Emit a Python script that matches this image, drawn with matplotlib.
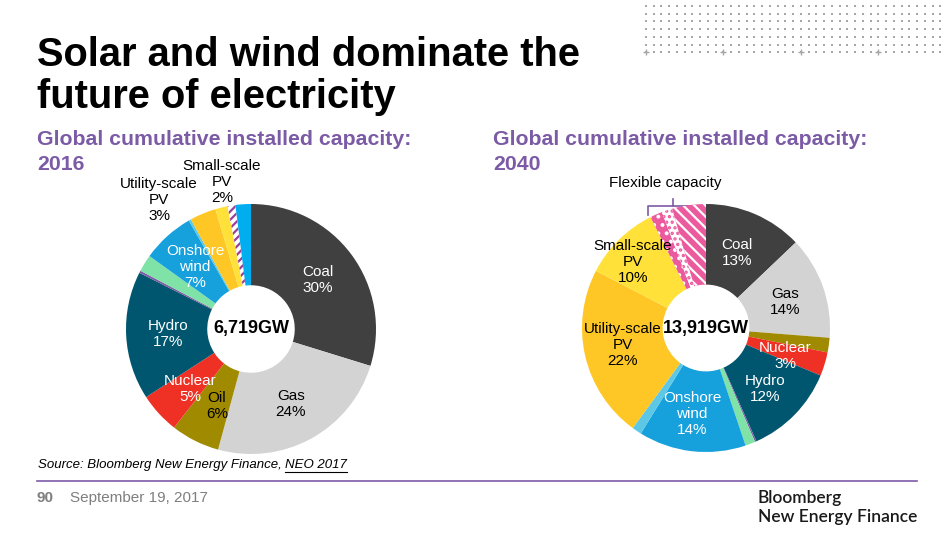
import numpy as np
import matplotlib
matplotlib.use("Agg")
import matplotlib.pyplot as plt

plt.rcParams['font.family'] = ['Liberation Sans', 'DejaVu Sans']
plt.rcParams['hatch.linewidth'] = 1.6

W, H = 953, 536

# 2016 capacity mix (% of 6,719GW), clockwise from 12 o'clock
names_2016 = ['Coal', 'Gas', 'Oil', 'Nuclear', 'Hydro', 'Biomass', 'Geothermal',
              'Onshore wind', 'Offshore wind', 'Utility-scale PV', 'Small-scale PV',
              'Flexible capacity', 'Other']
share_2016 = [29.8, 24.5, 6.3, 5.3, 16.6, 0.3, 2.2, 6.8, 0.3, 3.4, 1.6, 1.0, 2.0]
total_2016 = '6,719GW'

# 2040 capacity mix (% of 13,919GW)
names_2040 = ['Coal', 'Gas', 'Oil', 'Nuclear', 'Hydro', 'Biomass', 'Geothermal',
              'Onshore wind', 'Offshore wind', 'Utility-scale PV', 'Small-scale PV',
              'Flexible A', 'Flexible B', 'Flexible C']
share_2040 = [12.9, 13.4, 1.9, 3.1, 12.1, 0.2, 1.3, 14.0, 1.25, 22.6, 10.0, 1.6, 1.4, 4.4]
total_2040 = '13,919GW'

# printed labels: (name, text)
labels_2016 = {'Coal': 'Coal\n30%', 'Gas': 'Gas\n24%', 'Oil': 'Oil\n6%',
               'Nuclear': 'Nuclear\n5%', 'Hydro': 'Hydro\n17%',
               'Onshore wind': 'Onshore\nwind\n7%',
               'Utility-scale PV': 'Utility-scale\nPV\n3%',
               'Small-scale PV': 'Small-scale\nPV\n2%'}
labels_2040 = {'Coal': 'Coal\n13%', 'Gas': 'Gas\n14%', 'Nuclear': 'Nuclear\n3%',
               'Hydro': 'Hydro\n12%', 'Onshore wind': 'Onshore\nwind\n14%',
               'Utility-scale PV': 'Utility-scale\nPV\n22%',
               'Small-scale PV': 'Small-scale\nPV\n10%'}

colors = {'Coal': '#404040', 'Gas': '#d3d3d3', 'Oil': '#a08a00', 'Nuclear': '#ee3124',
          'Hydro': '#00566f', 'Biomass': '#7d5ba6', 'Geothermal': '#7fe3a8',
          'Onshore wind': '#16a0dc', 'Offshore wind': '#5cc8e6',
          'Utility-scale PV': '#ffc726', 'Small-scale PV': '#ffe13a',
          'Flexible capacity': 'white', 'Other': '#00aeef',
          'Flexible A': '#ec5a9e', 'Flexible B': 'white', 'Flexible C': '#ec5a9e'}
hatches = {'Flexible capacity': ('////', '#9b3f9c'),
           'Flexible A': ('..', 'white'),
           'Flexible B': ('...', '#ec5a9e'),
           'Flexible C': ('\\\\\\', 'white')}
white_text = ['Coal', 'Nuclear', 'Hydro', 'Onshore wind']
purple = '#7b5aa6'

fig = plt.figure(figsize=(W / 100, H / 100), dpi=100)
bg = fig.add_axes([0, 0, 1, 1])
bg.set_xlim(0, W)
bg.set_ylim(H, 0)
bg.axis('off')


def px(x, y):
    return x / W, 1 - y / H


def donut(cx, cy, r, names, shares, total):
    ax = fig.add_axes([(cx - r) / W, (H - cy - r) / H, 2 * r / W, 2 * r / H])
    cols = [colors[n] for n in names]
    wedges, _ = ax.pie(shares, colors=cols, startangle=90, counterclock=False,
                       radius=1, wedgeprops=dict(width=0.65, linewidth=0))
    for w, n in zip(wedges, names):
        if n in hatches:
            h, hc = hatches[n]
            w.set_hatch(h)
            w.set_edgecolor(hc)
            w.set_linewidth(0)
    ax.set_xlim(-1, 1)
    ax.set_ylim(-1, 1)
    ax.axis('off')
    fig.text(*px(cx, cy), total, ha='center', va='center', fontsize=13,
             fontweight='bold', color='black')
    return ax


donut(251, 329, 125, names_2016, share_2016, total_2016)
donut(706, 328, 124, names_2040, share_2040, total_2040)

# label positions (pixel centres)
pos_2016 = {'Coal': (318, 280), 'Gas': (291, 404), 'Oil': (217, 406),
            'Nuclear': (190, 389), 'Hydro': (168, 334), 'Onshore wind': (195, 267),
            'Utility-scale PV': (159, 200), 'Small-scale PV': (222, 182)}
pos_2040 = {'Coal': (737, 253), 'Gas': (785, 302), 'Nuclear': (785, 356),
            'Hydro': (765, 389), 'Onshore wind': (692, 414),
            'Utility-scale PV': (623, 345), 'Small-scale PV': (633, 262)}

for labels, pos in [(labels_2016, pos_2016), (labels_2040, pos_2040)]:
    for n, txt in labels.items():
        c = 'white' if n in white_text else 'black'
        fig.text(*px(*pos[n]), txt, ha='center', va='center', fontsize=11,
                 color=c, linespacing=1.15)

# flexible capacity bracket
fig.text(*px(665, 183), 'Flexible capacity', ha='center', va='center', fontsize=11)
bg.plot([648, 648, 703, 703], [215, 206, 206, 209], color=purple, lw=1.2)
bg.plot([673, 673], [206, 199], color=purple, lw=1.2)

# title and subtitles
fig.text(*px(37, 66), 'Solar and wind dominate the', fontsize=28.7,
         fontweight='bold', va='baseline')
fig.text(*px(37, 108), 'future of electricity', fontsize=28.7,
         fontweight='bold', va='baseline')
for x0, yr in [(37, '2016'), (493, '2040')]:
    fig.text(*px(x0, 145), 'Global cumulative installed capacity:', fontsize=15.3,
             fontweight='bold', color=purple, va='baseline')
    fig.text(*px(x0, 170), yr, fontsize=15.3, fontweight='bold', color=purple,
             va='baseline')

# dot grid top right
gx = 646 + 7.75 * np.arange(39)
gy = 6 + 7.7 * np.arange(7)
xx, yy = np.meshgrid(gx, gy)
bg.scatter(xx.ravel(), yy.ravel(), s=1.2, marker='s', color='#a6a6a6', linewidths=0)
bg.scatter(gx[::10], [gy[-1]] * 4, s=14, marker='+', color='#a6a6a6', linewidths=1)

# footer
renderer = fig.canvas.get_renderer()
neo = fig.text(*px(347, 465), 'NEO 2017', fontsize=9.5, style='italic',
               ha='right', va='center')
bb = neo.get_window_extent(renderer)
fig.text(bb.x0 / W, 1 - 465 / H, 'Source: Bloomberg New Energy Finance, ',
         fontsize=9.5, style='italic', ha='right', va='center')
bg.plot([bb.x0, bb.x1], [471.5, 471.5], color='black', lw=0.8)
bg.plot([37, 917], [481, 481], color=purple, lw=1.2)
fig.text(*px(37, 498), '90', fontsize=11, fontweight='bold', color='#7f7f7f',
         va='center')
fig.text(*px(70, 498), 'September 19, 2017', fontsize=11, color='#7f7f7f',
         va='center')
fig.text(*px(758, 498), 'Bloomberg', fontsize=12.5, family=['Lato', 'DejaVu Sans'],
         fontweight='semibold', color='#1a1a1a', va='center')
fig.text(*px(758, 517), 'New Energy Finance', fontsize=12.5,
         family=['Lato', 'DejaVu Sans'], fontweight='semibold', color='#1a1a1a',
         va='center')

fig.savefig('out.png', dpi=100)
